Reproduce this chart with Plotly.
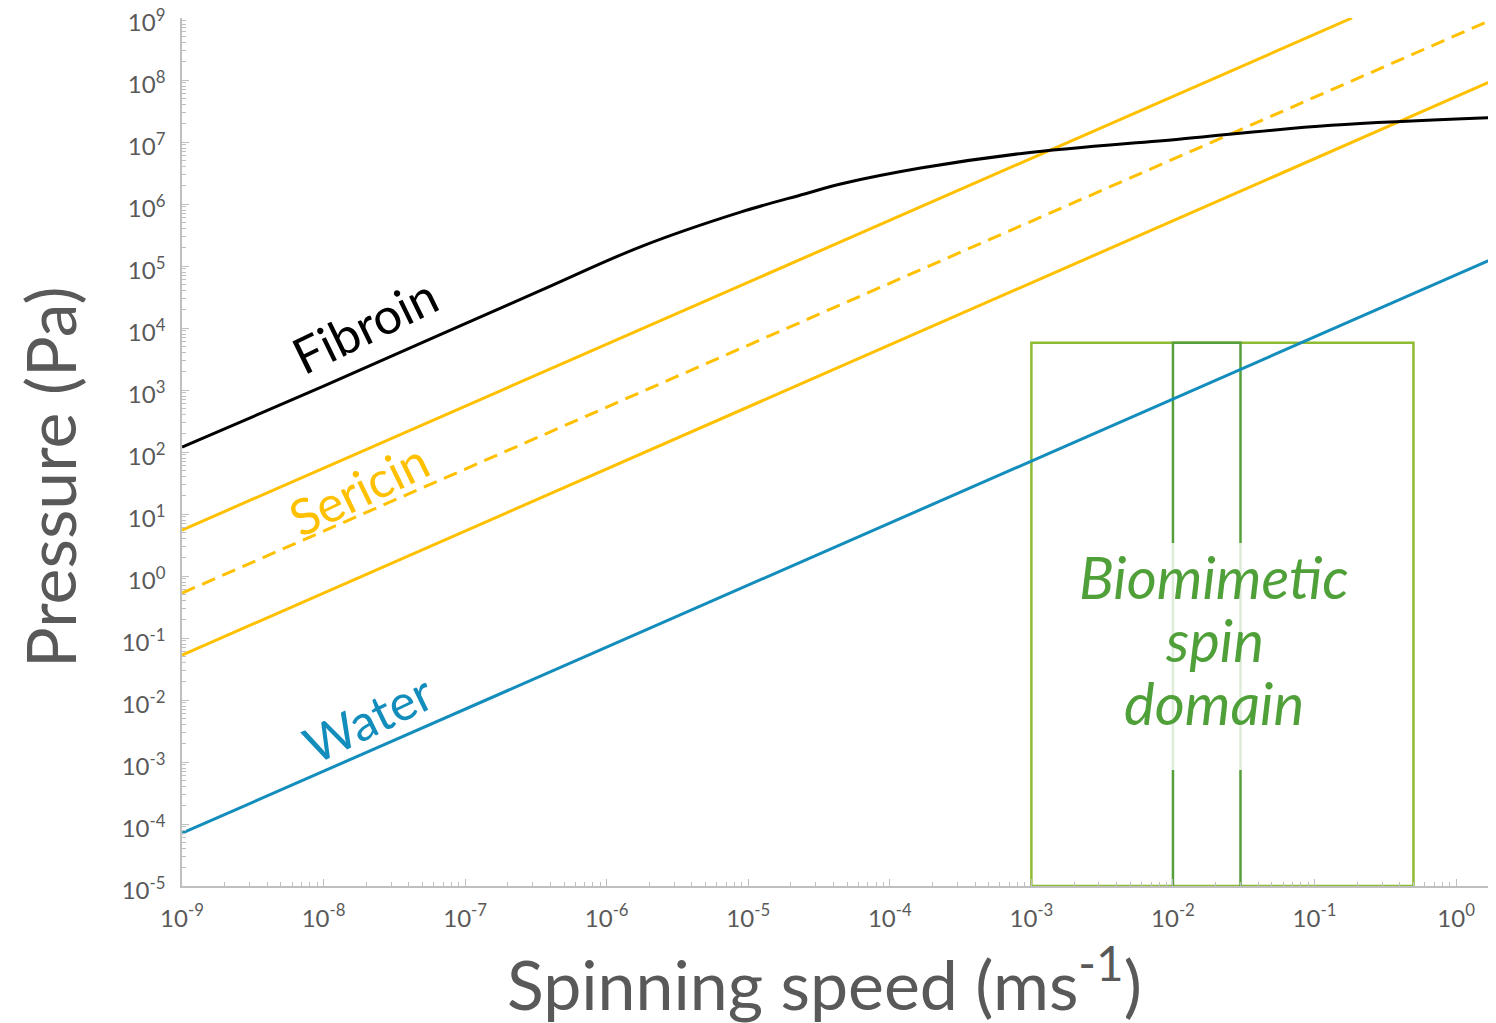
import plotly.graph_objects as go

# ---- data ----
fibroin_speed = [1e-9, 1e-8, 6.67e-8, 3.39e-7, 1.73e-6, 8.81e-6, 2.5e-5, 4.49e-5, 1.65e-4,
                 8.83e-4, 1.14e-2, 1.31e-1, 1.95]
fibroin_pressure = [1.2e2, 1.15e3, 7.8e3, 4.0e4, 2.04e5, 7.4e5, 1.45e6, 2.1e6, 3.8e6,
                    6.6e6, 1.12e7, 1.86e7, 2.5e7]

sericin_hi_speed = [1e-9, 0.184]
sericin_hi_pressure = [5.5, 1e9]
sericin_mid_speed = [1e-9, 1.9]
sericin_mid_pressure = [0.53, 1e9]
sericin_lo_speed = [1e-9, 1.95]
sericin_lo_pressure = [0.053, 1.05e8]

water_speed = [1e-9, 1e-2, 1.95]
water_pressure = [7.1e-5, 7.2e2, 1.4e5]

# biomimetic spin domain (outer box and inner band)
domain_speed = [1e-3, 1e-3, 0.5, 0.5, 1e-3]
domain_pressure = [1e-5, 5.8e3, 5.8e3, 1e-5, 1e-5]
band_speed = [1e-2, 1e-2, 3e-2, 3e-2]
band_pressure = [1e-5, 5.8e3, 5.8e3, 1e-5]

x_tick_vals = [1e-9, 1e-8, 1e-7, 1e-6, 1e-5, 1e-4, 1e-3, 1e-2, 1e-1, 1e0]
x_tick_text = ["10<sup>-9</sup>", "10<sup>-8</sup>", "10<sup>-7</sup>", "10<sup>-6</sup>",
               "10<sup>-5</sup>", "10<sup>-4</sup>", "10<sup>-3</sup>", "10<sup>-2</sup>",
               "10<sup>-1</sup>", "10<sup>0</sup>"]
y_tick_vals = [1e-5, 1e-4, 1e-3, 1e-2, 1e-1, 1e0, 1e1, 1e2, 1e3, 1e4, 1e5, 1e6, 1e7, 1e8, 1e9]
y_tick_text = ["10<sup>-5</sup>", "10<sup>-4</sup>", "10<sup>-3</sup>", "10<sup>-2</sup>",
               "10<sup>-1</sup>", "10<sup>0</sup>", "10<sup>1</sup>", "10<sup>2</sup>",
               "10<sup>3</sup>", "10<sup>4</sup>", "10<sup>5</sup>", "10<sup>6</sup>",
               "10<sup>7</sup>", "10<sup>8</sup>", "10<sup>9</sup>"]

FONT = "Lato"
GREY = "#595959"
AXIS_GREY = "#BFBFBF"
SERICIN = "#FFC000"
WATER = "#138DBB"
BOX_LIGHT = "#8DBB33"
BOX_DARK = "#56A03C"
TEXT_GREEN = "#50A03A"

# the page body adds an 8px offset; the figure is sized so the plot area
# lands at x 182..1496, y 18..886 of the browser window
OFF = 8
W, H = 1496 - OFF, 1023 - OFF
L, R, T, B = 182 - OFF, 0, 18 - OFF, 137
PW, PH = W - L - R, H - T - B


def px(xp):
    return (xp - 182) / PW


def py(yp):
    return (886 - yp) / PH


fig = go.Figure()

fig.add_trace(go.Scatter(x=domain_speed, y=domain_pressure, mode="lines",
                         line=dict(color=BOX_LIGHT, width=2.5), hoverinfo="skip"))
fig.add_trace(go.Scatter(x=band_speed, y=band_pressure, mode="lines",
                         line=dict(color=BOX_DARK, width=2.5), hoverinfo="skip"))

fig.add_trace(go.Scatter(x=water_speed, y=water_pressure, mode="lines",
                         line=dict(color=WATER, width=3), name="Water"))
fig.add_trace(go.Scatter(x=sericin_lo_speed, y=sericin_lo_pressure, mode="lines",
                         line=dict(color=SERICIN, width=3), name="Sericin low"))
fig.add_trace(go.Scatter(x=sericin_mid_speed, y=sericin_mid_pressure, mode="lines",
                         line=dict(color=SERICIN, width=3, dash="14px,8px"), name="Sericin mid"))
fig.add_trace(go.Scatter(x=sericin_hi_speed, y=sericin_hi_pressure, mode="lines",
                         line=dict(color=SERICIN, width=3), name="Sericin high"))
fig.add_trace(go.Scatter(x=fibroin_speed, y=fibroin_pressure, mode="lines",
                         line=dict(color="black", width=3, shape="spline", smoothing=1.0),
                         name="Fibroin"))

axis_common = dict(
    type="log",
    automargin=False,
    showgrid=False,
    zeroline=False,
    showline=True,
    linecolor=AXIS_GREY,
    linewidth=1.5,
    ticks="inside",
    ticklen=7,
    tickwidth=1.2,
    tickcolor=AXIS_GREY,
    tickmode="array",
    ticklabeloverflow="allow",
    tickfont=dict(family=FONT, size=24, color=GREY),
    minor=dict(ticks="inside", ticklen=4, tickwidth=1, tickcolor=AXIS_GREY,
               dtick="D1", showgrid=False),
)

fig.update_xaxes(**axis_common, tickvals=x_tick_vals, ticktext=x_tick_text,
                 range=[-9, 0.282], ticklabelstandoff=10)
fig.update_yaxes(**axis_common, tickvals=y_tick_vals, ticktext=y_tick_text,
                 range=[-5, 9], ticklabelstandoff=10, ticklabelshift=5)

label_font = dict(family=FONT, size=50)
annotations = [
    dict(text="Spinning speed (ms<sup>-1</sup>)", x=px(824), y=py(979),
         font=dict(family=FONT, size=68, color=GREY)),
    dict(text="Pressure (Pa)", x=px(49), y=py(477), textangle=-90,
         font=dict(family=FONT, size=68, color=GREY)),
    dict(text="Fibroin", x=px(365), y=py(325), textangle=-26,
         font=dict(label_font, color="black")),
    dict(text="Sericin", x=px(358), y=py(489), textangle=-26,
         font=dict(label_font, color=SERICIN)),
    dict(text="Water", x=px(368), y=py(718), textangle=-26,
         font=dict(label_font, color=WATER)),
    dict(text="<i>Biomimetic</i>", x=px(1214), y=py(576),
         font=dict(family=FONT, size=58, color=TEXT_GREEN)),
    dict(text="<i>spin</i>", x=px(1214), y=py(639),
         font=dict(family=FONT, size=58, color=TEXT_GREEN)),
    dict(text="<i>domain</i>", x=px(1214), y=py(702),
         font=dict(family=FONT, size=58, color=TEXT_GREEN)),
]
for a in annotations:
    a.update(xref="paper", yref="paper", showarrow=False,
             xanchor="center", yanchor="middle")

shapes = [
    dict(type="rect", xref="paper", yref="paper", x0=px(1090), x1=px(1340),
         y0=py(770), y1=py(543), fillcolor="rgba(255,255,255,0.8)",
         line=dict(width=0), layer="above"),
]

fig.update_layout(
    width=W, height=H, autosize=False,
    margin=dict(l=L, r=R, t=T, b=B),
    plot_bgcolor="white", paper_bgcolor="white",
    showlegend=False,
    annotations=annotations,
    shapes=shapes,
    font=dict(family=FONT, color=GREY),
)

fig.write_html("out.html")
